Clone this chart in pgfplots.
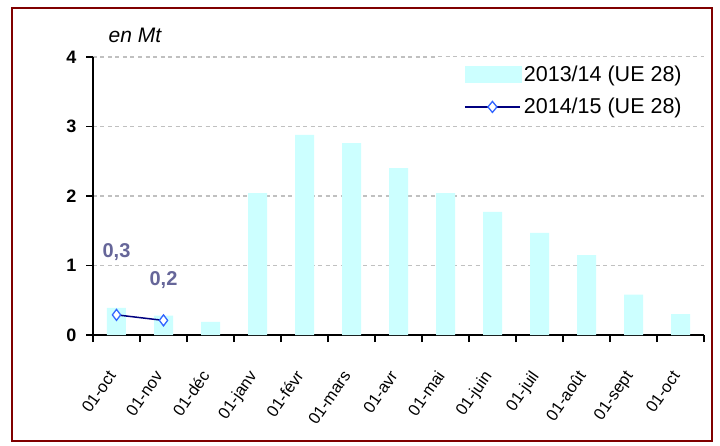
\documentclass[border=0pt]{standalone}
\usepackage{pgfplots}
\pgfplotsset{compat=1.18}
\usepackage{fontspec}
\setmainfont{Liberation Sans}
\definecolor{barcyan}{HTML}{CCFFFF}
\definecolor{linenavy}{HTML}{000080}
\definecolor{mkblue}{HTML}{3366FF}
\definecolor{lblslate}{HTML}{666699}
\definecolor{gridgray}{HTML}{C0C0C0}
\definecolor{framered}{HTML}{800000}

\begin{document}
\begin{tikzpicture}
\useasboundingbox[fill=white] (-93pt,-110pt) rectangle (627pt,335pt);
\begin{axis}[
    scale only axis,
    width=611pt, height=278pt,
    xmin=-0.5, xmax=12.5,
    ymin=0, ymax=4,
    axis x line*=bottom,
    axis y line*=left,
    axis line style={line width=1.6pt, -},
    ytick={1,2,3,4},
    extra y ticks={0},
    extra y tick style={grid=none},
    ymajorgrids,
    grid style={gridgray, line width=1.3pt, dash pattern=on 4pt off 3.5pt},
    tick align=outside,
    major tick length=7pt,
    tick style={black, line width=1.6pt},
    yticklabel style={font=\fontsize{18}{18}\selectfont\bfseries, xshift=-6pt},
    /pgf/number format/assume math mode=true,
    xtick={-0.5,0.5,...,12.5},
    xticklabels={},
    extra x ticks={0,1,...,12},
    extra x tick labels={01-oct,01-nov,01-déc,01-janv,01-févr,01-mars,01-avr,01-mai,01-juin,01-juil,01-août,01-sept,01-oct},
    extra x tick style={major tick length=0pt, grid=none},
    xticklabel style={font=\fontsize{16.5}{16.5}\selectfont, inner sep=0pt,
        xshift=0pt, yshift=-41pt, rotate=55, anchor=base east},
    legend cell align=left,
    legend style={at={(rel axis cs:0.5597,0.996)}, anchor=north west,
        fill=none, draw=none, font=\fontsize{21.5}{23}\selectfont,
        inner xsep=29pt, inner ysep=6pt, row sep=11pt,
        nodes={inner sep=2pt}},
]
\addplot[ybar, bar width=19pt, bar shift=0pt, fill=barcyan, draw=none,
    legend image code/.code={\fill[barcyan] (0pt,-8.5pt) rectangle (57pt,8.5pt);}]
    coordinates {
    (0,0.39) (1,0.28) (2,0.19) (3,2.04) (4,2.88) (5,2.76) (6,2.40)
    (7,2.04) (8,1.77) (9,1.47) (10,1.15) (11,0.58) (12,0.30)
    };
\addlegendentry{2013/14 (UE 28)}
\addplot[linenavy, line width=1.5pt, mark=diamond*, mark size=5.5pt,
    mark options={draw=mkblue, fill=white, line width=1.3pt, solid},
    legend image code/.code={
        \draw[linenavy, line width=1.5pt] (0pt,0pt) -- (55pt,0pt);
        \draw[mkblue, fill=white, line width=1.3pt] (27.5pt,5.5pt) -- (32pt,0pt) -- (27.5pt,-5.5pt) -- (23pt,0pt) -- cycle;}]
    coordinates {(0,0.29) (1,0.21)};
\addlegendentry{2014/15 (UE 28)}
\fill[white] (rel axis cs:0.5597,0.96) rectangle (rel axis cs:1.01,1.03);
\node[font=\fontsize{20}{20}\selectfont\bfseries, text=lblslate] at (axis cs:0,1.19) {0,3};
\node[font=\fontsize{20}{20}\selectfont\bfseries, text=lblslate] at (axis cs:1,0.79) {0,2};
\end{axis}
\node[font=\fontsize{21}{21}\selectfont\itshape] at (42pt,300pt) {en Mt};
\draw[framered, line width=2.5pt] (-81pt,-106pt) rectangle (619pt,327pt);
\end{tikzpicture}
\end{document}
